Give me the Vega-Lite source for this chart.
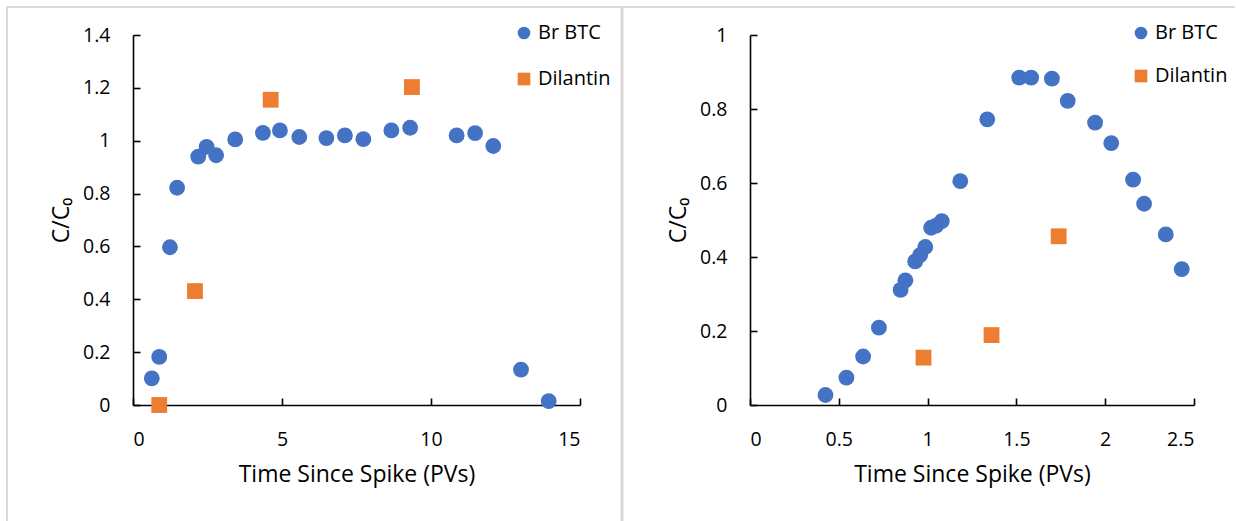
{
  "$schema": "https://vega.github.io/schema/vega-lite/v6.json",
  "background": "white",
  "padding": {"left": 6, "top": 5, "right": 0, "bottom": 0},
  "spacing": 170,
  "bounds": "flush",
  "config": {
    "font": "Open Sans",
    "view": {"stroke": null},
    "axis": {
      "grid": false,
      "domainColor": "#000000",
      "domainWidth": 1.6,
      "tickColor": "#000000",
      "tickWidth": 1.6,
      "ticks": false,
      "labelFont": "Open Sans",
      "labelFontSize": 19.5,
      "labelColor": "#000000",
      "titleFont": "Open Sans",
      "titleFontSize": 23,
      "titleFontWeight": "normal",
      "titleColor": "#000000",
      "format": "~g"
    },
    "axisX": {"labelPadding": 25, "titlePadding": 15},
    "axisY": {"labelPadding": 23, "titlePadding": 9},
    "legend": {
      "orient": "none",
      "padding": 0,
      "labelFont": "Open Sans",
      "labelFontSize": 20,
      "labelColor": "#000000",
      "labelOffset": 4,
      "symbolSize": 160,
      "symbolStrokeWidth": 0,
      "title": null
    }
  },
  "datasets": {
    "left": [
      {"series": "Br BTC", "t": 0.63, "c": 0.101},
      {"series": "Br BTC", "t": 0.88, "c": 0.182},
      {"series": "Br BTC", "t": 1.24, "c": 0.597},
      {"series": "Br BTC", "t": 1.48, "c": 0.822},
      {"series": "Br BTC", "t": 2.19, "c": 0.94},
      {"series": "Br BTC", "t": 2.47, "c": 0.977},
      {"series": "Br BTC", "t": 2.79, "c": 0.945},
      {"series": "Br BTC", "t": 3.43, "c": 1.005},
      {"series": "Br BTC", "t": 4.36, "c": 1.03},
      {"series": "Br BTC", "t": 4.93, "c": 1.039},
      {"series": "Br BTC", "t": 5.58, "c": 1.014},
      {"series": "Br BTC", "t": 6.49, "c": 1.01},
      {"series": "Br BTC", "t": 7.11, "c": 1.02},
      {"series": "Br BTC", "t": 7.73, "c": 1.006},
      {"series": "Br BTC", "t": 8.67, "c": 1.039},
      {"series": "Br BTC", "t": 9.3, "c": 1.049},
      {"series": "Br BTC", "t": 10.86, "c": 1.02},
      {"series": "Br BTC", "t": 11.48, "c": 1.029},
      {"series": "Br BTC", "t": 12.09, "c": 0.98},
      {"series": "Br BTC", "t": 13.02, "c": 0.134},
      {"series": "Br BTC", "t": 13.95, "c": 0.015},
      {"series": "Dilantin", "t": 0.88, "c": 0.0},
      {"series": "Dilantin", "t": 2.08, "c": 0.431},
      {"series": "Dilantin", "t": 4.62, "c": 1.155},
      {"series": "Dilantin", "t": 9.36, "c": 1.203}
    ],
    "right": [
      {"series": "Br BTC", "t": 0.425, "c": 0.027},
      {"series": "Br BTC", "t": 0.543, "c": 0.074},
      {"series": "Br BTC", "t": 0.637, "c": 0.131},
      {"series": "Br BTC", "t": 0.726, "c": 0.209},
      {"series": "Br BTC", "t": 0.848, "c": 0.311},
      {"series": "Br BTC", "t": 0.875, "c": 0.337},
      {"series": "Br BTC", "t": 0.93, "c": 0.388},
      {"series": "Br BTC", "t": 0.958, "c": 0.405},
      {"series": "Br BTC", "t": 0.987, "c": 0.427},
      {"series": "Br BTC", "t": 1.02, "c": 0.479},
      {"series": "Br BTC", "t": 1.048, "c": 0.485},
      {"series": "Br BTC", "t": 1.08, "c": 0.497},
      {"series": "Br BTC", "t": 1.184, "c": 0.605},
      {"series": "Br BTC", "t": 1.336, "c": 0.772},
      {"series": "Br BTC", "t": 1.516, "c": 0.885},
      {"series": "Br BTC", "t": 1.583, "c": 0.885},
      {"series": "Br BTC", "t": 1.7, "c": 0.882},
      {"series": "Br BTC", "t": 1.789, "c": 0.822},
      {"series": "Br BTC", "t": 1.943, "c": 0.763},
      {"series": "Br BTC", "t": 2.034, "c": 0.708},
      {"series": "Br BTC", "t": 2.157, "c": 0.609},
      {"series": "Br BTC", "t": 2.219, "c": 0.544},
      {"series": "Br BTC", "t": 2.341, "c": 0.461},
      {"series": "Br BTC", "t": 2.431, "c": 0.367},
      {"series": "Dilantin", "t": 0.977, "c": 0.128},
      {"series": "Dilantin", "t": 1.36, "c": 0.189},
      {"series": "Dilantin", "t": 1.738, "c": 0.456}
    ]
  },
  "hconcat": [
    {
      "width": 447,
      "height": 370,
      "layer": [
        {
          "data": {"name": "left"},
          "mark": {"type": "point", "filled": true, "opacity": 1, "size": 250},
          "encoding": {
            "x": {"field": "t", "type": "quantitative", "title": "Time Since Spike (PVs)",
                  "scale": {"domain": [0, 15], "nice": false, "zero": false},
                  "axis": {"values": [0, 5, 10, 15]}},
            "y": {"field": "c", "type": "quantitative", "title": "C/C₀",
                  "scale": {"domain": [0, 1.4], "nice": false},
                  "axis": {"values": [0, 0.2, 0.4, 0.6, 0.8, 1, 1.2, 1.4]}},
            "color": {"field": "series", "type": "nominal",
                      "scale": {"domain": ["Br BTC", "Dilantin"], "range": ["#4472C4", "#ED7D31"]},
                      "legend": {"legendX": 381, "legendY": -12, "rowPadding": 26}},
            "shape": {"field": "series", "type": "nominal",
                      "scale": {"domain": ["Br BTC", "Dilantin"], "range": ["circle", "square"]},
                      "legend": {"legendX": 381, "legendY": -12, "rowPadding": 26}}
          }
        },
        {
          "data": {"name": "left"},
          "mark": {"type": "point", "opacity": 0, "size": 1},
          "encoding": {
            "x": {"field": "t", "type": "quantitative",
                  "axis": {"orient": "top", "offset": -370, "values": [0, 5, 10, 15], "labels": false, "domain": false, "ticks": true, "tickSize": 7, "title": null}},
            "y": {"field": "c", "type": "quantitative",
                  "axis": {"orient": "right", "offset": -447, "values": [0, 0.2, 0.4, 0.6, 0.8, 1, 1.2, 1.4], "labels": false, "domain": false, "ticks": true, "tickSize": 7, "title": null}}
          }
        },
        {
          "data": {"values": [{}]},
          "mark": {"type": "rule", "color": "#d9d9d9", "strokeWidth": 3},
          "encoding": {
            "x": {"datum": 16.409, "type": "quantitative", "axis": null},
            "y": {"datum": 1.506, "type": "quantitative", "axis": null},
            "y2": {"datum": -0.443}
          }
        },
        {
          "data": {"values": [{}]},
          "mark": {"type": "rule", "color": "#d9d9d9", "strokeWidth": 2},
          "encoding": {
            "x": {"datum": -4.228, "type": "quantitative", "axis": null},
            "y": {"datum": 1.506, "type": "quantitative", "axis": null},
            "y2": {"datum": -0.443}
          }
        },
        {
          "data": {"values": [{}]},
          "mark": {"type": "rule", "color": "#d9d9d9", "strokeWidth": 2},
          "encoding": {
            "x": {"datum": -4.228, "type": "quantitative", "axis": null},
            "x2": {"datum": 16.409},
            "y": {"datum": 1.506, "type": "quantitative", "axis": null}
          }
        }
      ],
      "resolve": {"axis": {"x": "independent", "y": "independent"}, "legend": {"color": "independent", "shape": "independent"}}
    },
    {
      "width": 444,
      "height": 370,
      "layer": [
        {
          "data": {"name": "right"},
          "mark": {"type": "point", "filled": true, "opacity": 1, "size": 250},
          "encoding": {
            "x": {"field": "t", "type": "quantitative", "title": "Time Since Spike (PVs)",
                  "scale": {"domain": [0, 2.5], "nice": false, "zero": false},
                  "axis": {"values": [0, 0.5, 1, 1.5, 2, 2.5]}},
            "y": {"field": "c", "type": "quantitative", "title": "C/C₀",
                  "scale": {"domain": [0, 1], "nice": false},
                  "axis": {"values": [0, 0.2, 0.4, 0.6, 0.8, 1]}},
            "color": {"field": "series", "type": "nominal",
                      "scale": {"domain": ["Br BTC", "Dilantin"], "range": ["#4472C4", "#ED7D31"]},
                      "legend": {"legendX": 381, "legendY": -12, "rowPadding": 23}},
            "shape": {"field": "series", "type": "nominal",
                      "scale": {"domain": ["Br BTC", "Dilantin"], "range": ["circle", "square"]},
                      "legend": {"legendX": 381, "legendY": -12, "rowPadding": 23}}
          }
        },
        {
          "data": {"name": "right"},
          "mark": {"type": "point", "opacity": 0, "size": 1},
          "encoding": {
            "x": {"field": "t", "type": "quantitative",
                  "axis": {"orient": "top", "offset": -370, "values": [0, 0.5, 1, 1.5, 2, 2.5], "labels": false, "domain": false, "ticks": true, "tickSize": 7, "title": null}},
            "y": {"field": "c", "type": "quantitative",
                  "axis": {"orient": "right", "offset": -444, "values": [0, 0.2, 0.4, 0.6, 0.8, 1], "labels": false, "domain": false, "ticks": true, "tickSize": 7, "title": null}}
          }
        },
        {
          "data": {"values": [{}]},
          "mark": {"type": "rule", "color": "#d9d9d9", "strokeWidth": 2},
          "encoding": {
            "x": {"datum": -0.721, "type": "quantitative", "axis": null},
            "x2": {"datum": 2.731},
            "y": {"datum": 1.0757, "type": "quantitative", "axis": null}
          }
        }
      ],
      "resolve": {"axis": {"x": "independent", "y": "independent"}}
    }
  ],
  "resolve": {"scale": {"x": "independent", "y": "independent", "color": "independent", "shape": "independent"}, "legend": {"color": "independent", "shape": "independent"}}
}
